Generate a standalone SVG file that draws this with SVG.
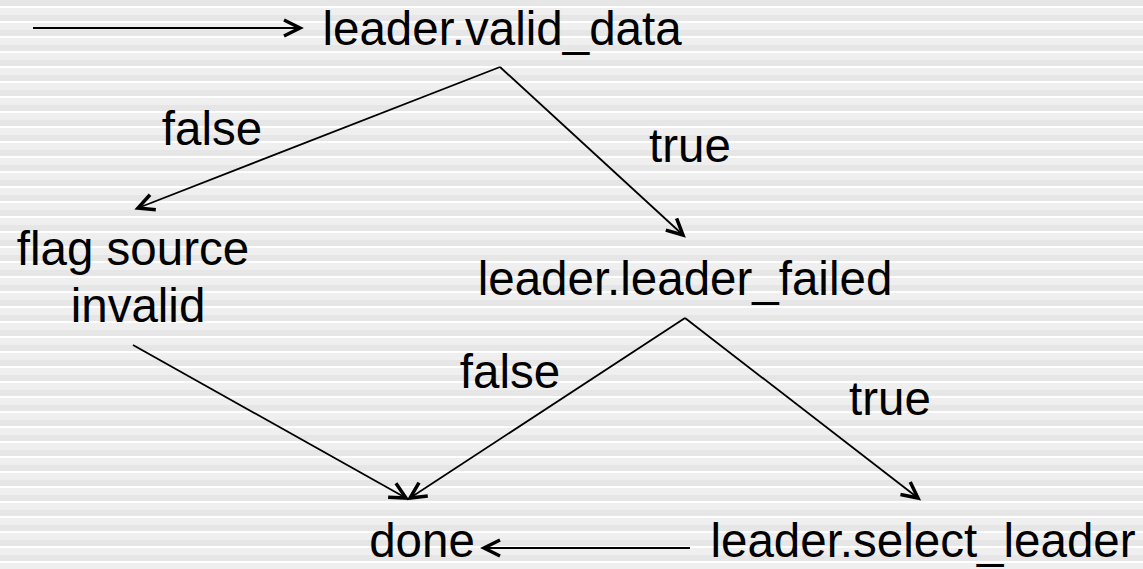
<svg xmlns="http://www.w3.org/2000/svg" width="1143" height="569" viewBox="0 0 1143 569">
<defs>
<pattern id="stripes" x="0" y="0" width="20" height="15" patternUnits="userSpaceOnUse" patternTransform="translate(0,6)">
<rect x="0" y="0" width="20" height="15" fill="#e6e6e6"/>
<rect x="0" y="0" width="20" height="2" fill="#ffffff"/>
<rect x="0" y="2" width="20" height="7" fill="#efefef"/>
</pattern>
<marker id="arr" markerUnits="userSpaceOnUse" viewBox="-20 -11 24 22" markerWidth="24" markerHeight="22" refX="0" refY="0" orient="auto">
<path d="M-16,-8 L0,0 L-16,8" fill="none" stroke="#000" stroke-width="3.5" stroke-linejoin="miter"/>
</marker>
</defs>
<style>
.lbl{font-family:"Liberation Sans",Arial,sans-serif;font-size:47.5px;fill:#000;text-anchor:middle}
.edge{fill:none;stroke:#000;stroke-width:1.8;marker-end:url(#arr)}
</style>
<rect x="0" y="0" width="1143" height="569" fill="url(#stripes)"/>
<g id="connectors">
<line class="edge" x1="33" y1="28" x2="300" y2="28"/>
<line class="edge" x1="500" y1="67" x2="138" y2="208"/>
<line class="edge" x1="500" y1="67" x2="683" y2="235"/>
<line class="edge" x1="133" y1="345" x2="406" y2="498"/>
<line class="edge" x1="685" y1="318" x2="410" y2="498"/>
<line class="edge" x1="685" y1="318" x2="918" y2="498"/>
<line class="edge" x1="690" y1="548" x2="484" y2="548"/>
</g>
<g id="node-valid"><text class="lbl" x="502" y="45">leader.valid_data</text></g>
<g id="label-false1"><text class="lbl" x="212" y="145">false</text></g>
<g id="label-true1"><text class="lbl" x="690" y="162">true</text></g>
<g id="node-flag"><text class="lbl" x="133" y="265">flag source</text><text class="lbl" x="138" y="322">invalid</text></g>
<g id="node-failed"><text class="lbl" x="685" y="295">leader.leader_failed</text></g>
<g id="label-false2"><text class="lbl" x="510" y="388">false</text></g>
<g id="label-true2"><text class="lbl" x="890" y="415">true</text></g>
<g id="node-done"><text class="lbl" x="422" y="557">done</text></g>
<g id="node-select"><text class="lbl" x="923" y="557">leader.select_leader</text></g>
</svg>
